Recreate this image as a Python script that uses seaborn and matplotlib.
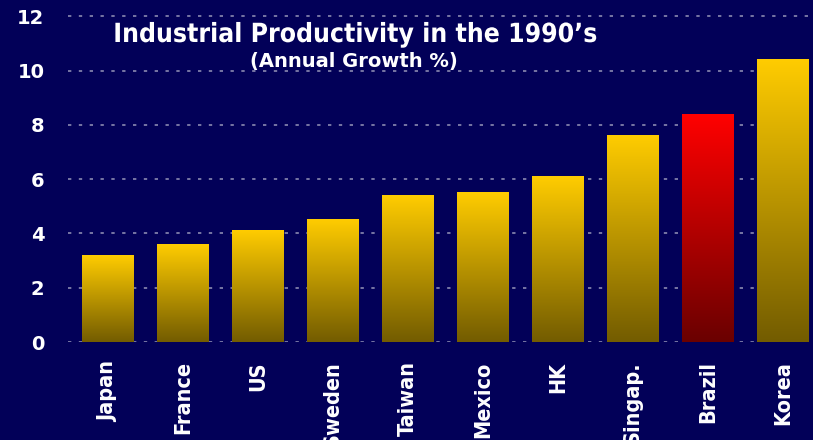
import numpy as np
import pandas as pd
import matplotlib
matplotlib.use("Agg")
import matplotlib.pyplot as plt
import matplotlib.patheffects as pe
from matplotlib.colors import LinearSegmentedColormap
import seaborn as sns

# Industrial productivity growth in the 1990s, by country
countries = ["Japan", "France", "US", "Sweden", "Taiwan", "Mexico",
             "HK", "Singap.", "Brazil", "Korea"]
growth = [3.2, 3.6, 4.1, 4.5, 5.4, 5.5, 6.1, 7.6, 8.4, 10.4]
highlight = "Brazil"
y_ticks = [0, 2, 4, 6, 8, 10, 12]

title = "Industrial Productivity in the 1990\u2019s"
subtitle = "(Annual Growth %)"

BG = "#020058"
GOLD_TOP, GOLD_BOTTOM = "#FFCC00", "#735C00"
RED_TOP, RED_BOTTOM = "#FF0000", "#6A0000"

df = pd.DataFrame({"country": countries, "growth": growth})

sns.set_style("dark")
plt.rcParams["font.family"] = ["DejaVu Sans"]

fig = plt.figure(figsize=(8.13, 4.40), dpi=100, facecolor=BG)
ax = fig.add_axes([68 / 813, (440 - 342) / 440, 745 / 813, 327 / 440])
ax.set_facecolor(BG)

sns.barplot(data=df, x="country", y="growth", order=countries,
            width=0.68, color=GOLD_TOP, ax=ax, zorder=2)

# Replace flat bars with vertical gradients
for patch, name in zip(ax.patches, countries):
    x0, y0 = patch.get_x(), patch.get_y()
    w, h = patch.get_width(), patch.get_height()
    top, bottom = (RED_TOP, RED_BOTTOM) if name == highlight else (GOLD_TOP, GOLD_BOTTOM)
    cmap = LinearSegmentedColormap.from_list("grad", [bottom, top])
    grad = np.linspace(0, 1, 256).reshape(-1, 1)
    ax.imshow(grad, cmap=cmap, origin="lower", aspect="auto",
              extent=(x0, x0 + w, y0, y0 + h), zorder=3, interpolation="bilinear")
    patch.set_visible(False)

ax.set_xlim(-0.533, 9.4)
ax.set_ylim(0, 12.05)

# Dotted horizontal grid
ax.set_yticks(y_ticks)
ax.grid(False)
for y in y_ticks:
    ax.axhline(y, color="#8A8AB0", linewidth=1.2, linestyle=(0, (2, 4.5)), zorder=1)

for s in ax.spines.values():
    s.set_visible(False)

ax.set_xlabel("")
ax.set_ylabel("")
ax.tick_params(axis="y", length=0, pad=17, labelcolor="white", labelsize=14)
ax.tick_params(axis="x", length=0, pad=14, labelcolor="white")
for lbl in ax.get_yticklabels():
    lbl.set_fontweight("bold")
ax.set_xticks(range(len(countries)))
ax.set_xticklabels(countries, rotation=90, fontsize=15.5, fontweight="bold",
                   fontstretch="condensed", va="top", ha="center")

fig.text(355 / 813, 1 - 35 / 440, title, color="white", fontsize=19,
         fontweight="bold", fontstretch="condensed", ha="center", va="center",
         path_effects=[pe.SimpleLineShadow(offset=(1.5, -1.5), shadow_color="black", alpha=1.0),
                       pe.Normal()])
fig.text(354 / 813, 1 - 61 / 440, subtitle, color="white", fontsize=14,
         fontweight="bold", ha="center", va="center")

fig.savefig("out.png", dpi=100, facecolor=BG)
